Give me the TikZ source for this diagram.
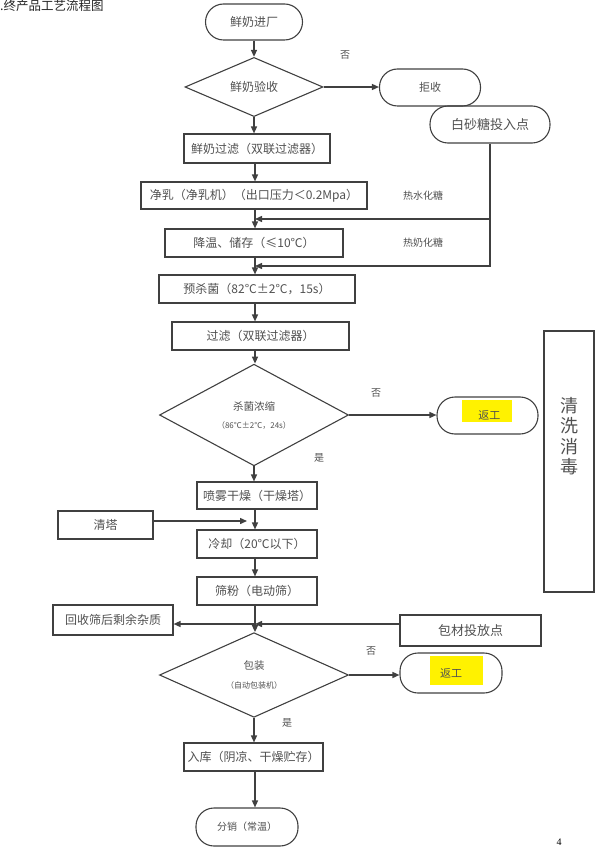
\documentclass[tikz,border=0pt]{standalone}
\usepackage{fontspec}
\setmainfont{Liberation Serif}
\newfontfamily\cjk{Noto Sans CJK SC}
\usetikzlibrary{shapes.geometric,arrows.meta}
\definecolor{flowline}{HTML}{404040}
\definecolor{flowtext}{HTML}{505050}
\tikzset{
    box/.style={draw=flowline,line width=1.1pt,text=flowtext,font=\cjk\fontsize{12}{14}\selectfont,inner sep=0pt},
    proc/.style={box,rectangle},
    term/.style={box,rectangle,rounded corners=18pt},
    decide/.style={box,diamond,align=center},
    flow/.style={draw=flowline,line width=1.4pt,-{Triangle[length=7pt,width=6pt]}},
    note/.style={text=flowtext,font=\cjk\fontsize{10}{12}\selectfont},
    hilite/.style={fill=yellow},
}

\begin{document}
\begin{tikzpicture}[x=1pt,y=-1pt]
    \useasboundingbox (0,0) rectangle (600,850);
    \node[anchor=base west,text=black!85,font=\cjk\fontsize{12.5}{14}\selectfont,inner sep=0pt] (title) at (0,11) {.终产品工艺流程图};
    \coordinate (axis) at (255,0);
    \coordinate (hot1) at (255,219);
    \coordinate (hot2) at (255,266);
    \coordinate (towerin) at (247,521);
    \coordinate (sieve) at (255,624);
    % highlights behind rework text
    \fill[hilite] (462,400) rectangle (512,422);
    \fill[hilite] (430,656) rectangle (483,685);
    % main column
    \node[term,minimum width=97pt,minimum height=36pt] (intake) at (254,22) {鲜奶进厂};
    \node[decide,minimum width=138pt,minimum height=54pt] (check) at (254,87) {鲜奶验收};
    \node[term,minimum width=101pt,minimum height=37pt,font=\cjk\fontsize{11}{13}\selectfont] (reject) at (430,87.5) {拒收};
    \node[term,minimum width=120pt,minimum height=37pt,font=\cjk\fontsize{13}{15}\selectfont] (sugar) at (490,124.5) {白砂糖投入点};
    \node[proc,minimum width=146pt,minimum height=29pt] (filt1) at (257,148.5) {鲜奶过滤（双联过滤器）};
    \node[proc,minimum width=226pt,minimum height=27pt] (purify) at (254,195.5) {净乳（净乳机）（出口压力＜0.2Mpa）};
    \node[proc,minimum width=178pt,minimum height=28pt] (cool) at (254,243) {降温、储存（≤10℃）};
    \node[proc,minimum width=196pt,minimum height=28pt] (preheat) at (257,289) {预杀菌（82°C±2°C，15s）};
    \node[proc,minimum width=177pt,minimum height=28pt] (filt2) at (260.5,336) {过滤（双联过滤器）};
    \node[decide,minimum width=189pt,minimum height=75pt] (evap) at (254,415) {{\fontsize{10.5}{12}\selectfont 杀菌浓缩}\\[4pt]{\fontsize{8}{10}\selectfont （86℃±2℃，24s）}};
    \node[term,minimum width=101pt,minimum height=37pt,font=\cjk\fontsize{11}{13}\selectfont] (rework1) at (487.5,415.5) {\,\,返工};
    \node[proc,minimum width=50pt,minimum height=261pt] (cip) at (569,461.5) {};
    \node[text=flowtext,font=\cjk\fontsize{18}{20.5}\selectfont,align=center] (ciptext) at (569,436) {清\\洗\\消\\毒};
    \node[proc,minimum width=120pt,minimum height=27pt] (spray) at (257,495.5) {喷雾干燥（干燥塔）};
    \node[proc,minimum width=95pt,minimum height=28pt] (tower) at (105.5,525) {清塔};
    \node[proc,minimum width=120pt,minimum height=28pt] (chill) at (257,544) {冷却（20℃以下）};
    \node[proc,minimum width=120pt,minimum height=28pt] (sift) at (257,591) {筛粉（电动筛）};
    \node[proc,minimum width=120pt,minimum height=30pt] (residue) at (113,620) {回收筛后剩余杂质};
    \node[proc,minimum width=141pt,minimum height=31pt,font=\cjk\fontsize{13}{15}\selectfont] (material) at (470.5,630.5) {包材投放点};
    \node[decide,minimum width=189pt,minimum height=78pt] (pack) at (254,675) {{\fontsize{10.5}{12}\selectfont 包装}\\[5pt]{\fontsize{8}{10}\selectfont （自动包装机）}};
    \node[term,minimum width=102pt,minimum height=40pt,font=\cjk\fontsize{11}{13}\selectfont] (rework2) at (451,673) {返工};
    \node[proc,minimum width=139pt,minimum height=28pt] (store) at (253.5,757) {入库（阴凉、干燥贮存）};
    \node[term,minimum width=102pt,minimum height=38pt,font=\cjk\fontsize{10}{12}\selectfont] (dist) at (247,827) {分销（常温）};
    % side notes
    \node[note] (no1) at (345,55) {否};
    \node[note] (water) at (423,196) {热水化糖};
    \node[note] (milk) at (423,243) {热奶化糖};
    \node[note] (no2) at (376,393) {否};
    \node[note] (yes2) at (319,458) {是};
    \node[note] (no3) at (371,651) {否};
    \node[note] (yes3) at (287,723) {是};
    \node[font=\fontsize{10}{12}\selectfont] (page) at (559,842) {4};
    % connectors
    \draw[flow] (intake.south) -- (check.north);
    \draw[flow] (check.east) -- (reject.west |- check.east);
    \draw[flow] (check.south) -- (filt1.north -| check.south);
    \draw[flow] (filt1.south -| axis) -- (purify.north -| axis);
    \draw[flow] (purify.south -| axis) -- (cool.north -| axis);
    \draw[flow] (cool.south -| axis) -- (preheat.north -| axis);
    \draw[flow] (sugar.south) |- (hot2);
    \draw[flow] (sugar.south |- hot1) -- (hot1);
    \draw[flow] (preheat.south -| axis) -- (filt2.north -| axis);
    \draw[flow] (filt2.south -| axis) -- (evap.north -| axis);
    \draw[flow] (evap.east) -- (rework1.west |- evap.east);
    \draw[flow] (evap.south) -- (spray.north -| evap.south);
    \draw[flow] (spray.south -| axis) -- (chill.north -| axis);
    \draw[flow] (tower.east |- towerin) -- (towerin);
    \draw[flow] (chill.south -| axis) -- (sift.north -| axis);
    \draw[flow] (sift.south -| axis) -- (pack.north -| axis);
    \draw[flow] (sieve) -- (residue.east |- sieve);
    \draw[flow] (material.west |- sieve) -- (sieve);
    \draw[flow] (pack.east) -- (rework2.west |- pack.east);
    \draw[flow] (pack.south) -- (store.north -| pack.south);
    \draw[flow] (store.south -| axis) -- (dist.north -| axis);
\end{tikzpicture}
\end{document}
